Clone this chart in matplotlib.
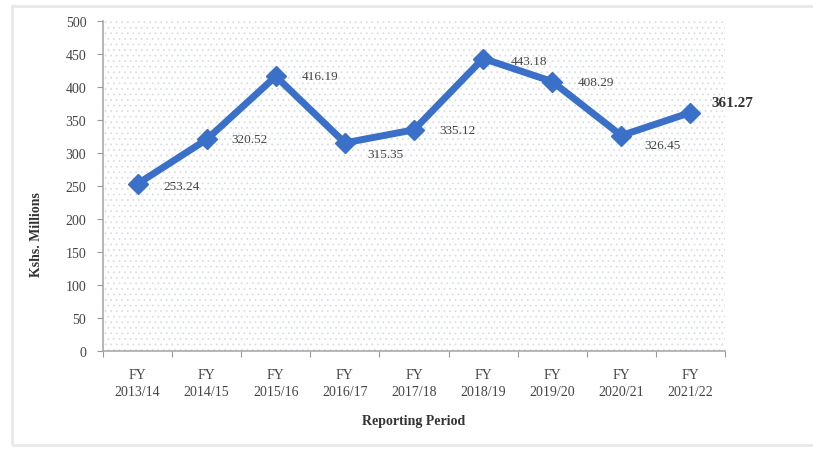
import matplotlib
matplotlib.use("Agg")
import matplotlib.pyplot as plt
from matplotlib.patches import Rectangle

categories = ["FY\n2013/14", "FY\n2014/15", "FY\n2015/16", "FY\n2016/17", "FY\n2017/18",
              "FY\n2018/19", "FY\n2019/20", "FY\n2020/21", "FY\n2021/22"]
values = [253.24, 320.52, 416.19, 315.35, 335.12, 443.18, 408.29, 326.45, 361.27]
value_labels = ["253.24", "320.52", "416.19", "315.35", "335.12", "443.18", "408.29", "326.45", "361.27"]
y_ticks = [0, 50, 100, 150, 200, 250, 300, 350, 400, 450, 500]

label_offsets = [(26, -2), (25, 0), (26, 0), (22, -11), (25, 0), (28, -2), (26, 0), (23, -9), (21, 10)]

plt.rcParams['font.family'] = ['Liberation Serif', 'DejaVu Serif']
plt.rcParams['hatch.linewidth'] = 0.6

W, H = 813, 452
fig = plt.figure(figsize=(W / 100, H / 100), dpi=100)

# outer frame
fig.patches.append(Rectangle((12 / W, 1 - 446 / H), (W + 10 - 12) / W, (446 - 7) / H,
                             transform=fig.transFigure, fill=False,
                             edgecolor='#e8e8e8', linewidth=2, zorder=0))

ax = fig.add_axes([103 / W, 1 - 352 / H, 622 / W, 330 / H])
ax.set_facecolor('white')
ax.add_patch(Rectangle((0, 0), 1, 1, transform=ax.transAxes, facecolor='white',
                       edgecolor='#d9dee6', linewidth=0, hatch='...', zorder=0.5))

x = list(range(len(categories)))
ax.plot(x, values, color='#3a70c8', linewidth=5, marker='D', markersize=10,
        markerfacecolor='#3a70c8', markeredgecolor='#3a70c8', zorder=3, solid_joinstyle='miter')

for i, (v, lab) in enumerate(zip(values, value_labels)):
    last = i == len(values) - 1
    ax.annotate(lab, (i, v), xytext=label_offsets[i], textcoords='offset pixels',
                ha='left', va='center', fontsize=11 if last else 9.5,
                fontweight='bold' if last else 'normal', color='#333333' if last else '#444444',
                zorder=4)

ax.set_xlim(-0.5, len(categories) - 0.5)
ax.set_ylim(0, 500)
ax.set_yticks(y_ticks)
ax.set_yticklabels([str(t) for t in y_ticks], fontsize=10, color='#444444')

ax.set_xticks([i - 0.5 for i in range(len(categories) + 1)])
ax.set_xticklabels([])
ax.set_xticks(x, minor=True)
ax.set_xticklabels(categories, minor=True, fontsize=10, color='#444444', linespacing=1.45)
ax.tick_params(axis='x', which='minor', length=0, pad=12)
ax.tick_params(axis='x', which='major', length=4, color='#999999', direction='out')
ax.tick_params(axis='y', length=4, color='#999999', direction='out', pad=8)

for s in ['top', 'right']:
    ax.spines[s].set_visible(False)
for s in ['left', 'bottom']:
    ax.spines[s].set_color('#aaaaaa')
    ax.spines[s].set_linewidth(1.2)

ax.set_ylabel("Kshs. Millions", fontsize=10, fontweight='bold', color='#333333')
ax.yaxis.set_label_coords(-0.096, 0.357)
ax.set_xlabel("Reporting Period", fontsize=10, fontweight='bold', color='#333333')
ax.xaxis.set_label_coords(0.5, -0.19)

fig.savefig("out.png", dpi=100)
